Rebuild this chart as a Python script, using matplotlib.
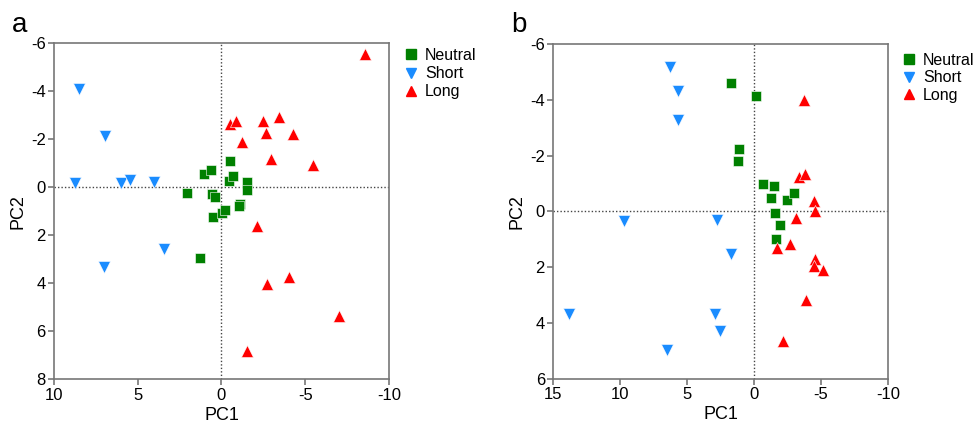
import matplotlib
matplotlib.use("Agg")
import matplotlib.pyplot as plt
from matplotlib.lines import Line2D

plt.rcParams['font.family'] = ['Liberation Sans', 'DejaVu Sans']

# panel a data (PC1, PC2)
a_neutral_pc1 = [2.04, 1.06, 0.62, 0.58, 0.40, 0.50, -0.06, -0.22, -0.50, -0.46, -0.70, -1.53, -1.53, -1.10, -1.04, 1.30]
a_neutral_pc2 = [0.22, -0.55, -0.72, 0.28, 0.39, 1.22, 1.06, 0.95, -1.11, -0.27, -0.48, -0.23, 0.11, 0.67, 0.78, 2.96]
a_short_pc1 = [8.49, 6.93, 8.74, 5.99, 5.49, 4.04, 3.46, 7.03]
a_short_pc2 = [-4.12, -2.14, -0.17, -0.17, -0.30, -0.23, 2.57, 3.33]
a_long_pc1 = [-8.58, -0.50, -0.84, -2.49, -3.45, -2.65, -4.25, -1.22, -2.95, -5.49, -2.13, -4.05, -2.71, -7.02, -1.51]
a_long_pc2 = [-5.55, -2.64, -2.78, -2.78, -2.92, -2.25, -2.21, -1.90, -1.17, -0.93, 1.61, 3.75, 4.04, 5.36, 6.82]

# panel b data
b_neutral_pc1 = [1.74, -0.15, 1.12, 1.22, -0.65, -1.47, -1.25, -2.44, -3.01, -1.59, -1.92, -1.62]
b_neutral_pc2 = [-4.60, -4.12, -2.25, -1.80, -0.99, -0.92, -0.49, -0.42, -0.66, 0.06, 0.50, 1.00]
b_short_pc1 = [6.25, 5.67, 5.65, 9.75, 2.74, 13.81, 6.47, 1.74, 2.91, 2.54]
b_short_pc2 = [-5.17, -4.31, -3.26, 0.35, 0.30, 3.67, 4.96, 1.54, 3.67, 4.29]
b_long_pc1 = [-3.71, -3.34, -3.83, -4.48, -4.57, -3.13, -2.66, -1.69, -4.57, -4.48, -5.13, -3.88, -2.14]
b_long_pc2 = [-4.00, -1.25, -1.33, -0.37, -0.01, 0.23, 1.16, 1.30, 1.70, 1.94, 2.11, 3.16, 4.65]

groups = ["Neutral", "Short", "Long"]
colors = ["#008000", "#1a8cff", "#ff0000"]
markers = ["s", "v", "^"]

fig = plt.figure(figsize=(9.74, 4.22), dpi=100)
ax_a = fig.add_axes([0.0554, 0.101, 0.344, 0.796])
ax_b = fig.add_axes([0.568, 0.102, 0.3436, 0.794])


def draw_panel(ax, data, xlim, ylim, xticks, yticks):
    ax.axhline(0, color="#444444", linestyle=(0, (1, 1.5)), linewidth=1, zorder=1)
    ax.axvline(0, color="#444444", linestyle=(0, (1, 1.5)), linewidth=1, zorder=1)
    for (x, y), c, m in zip(data, colors, markers):
        size = 60 if m == "s" else 75
        ax.scatter(x, y, s=size, c=c, marker=m, edgecolors="white", linewidths=0.4, zorder=3)
    ax.set_xlim(*xlim)
    ax.set_ylim(*ylim)
    ax.set_xticks(xticks)
    ax.set_yticks(yticks)
    ax.set_xticklabels([str(t) for t in xticks])
    ax.set_yticklabels([str(t) for t in yticks])
    for s in ax.spines.values():
        s.set_color("#777777")
        s.set_linewidth(1.2)
    ax.tick_params(direction="out", length=4, width=1.2, color="#777777", labelsize=12, pad=2)
    ax.set_xlabel("PC1", fontsize=13, labelpad=3)
    ax.set_ylabel("PC2", fontsize=13, labelpad=3)


draw_panel(ax_a,
           [(a_neutral_pc1, a_neutral_pc2), (a_short_pc1, a_short_pc2), (a_long_pc1, a_long_pc2)],
           (10, -10), (8, -6), [10, 5, 0, -5, -10], [-6, -4, -2, 0, 2, 4, 6, 8])
draw_panel(ax_b,
           [(b_neutral_pc1, b_neutral_pc2), (b_short_pc1, b_short_pc2), (b_long_pc1, b_long_pc2)],
           (15, -10), (6, -6), [15, 10, 5, 0, -5, -10], [-6, -4, -2, 0, 2, 4, 6])

handles = [Line2D([], [], linestyle="none", marker=m, color=c, markersize=7) for c, m in zip(colors, markers)]
fig.legend(handles, groups, loc="upper left", bbox_to_anchor=(401 / 974, 1 - 48 / 422),
           frameon=False, fontsize=11.5, handletextpad=0.3, labelspacing=0.2,
           borderpad=0, borderaxespad=0, handlelength=1.2)
fig.legend(handles, groups, loc="upper left", bbox_to_anchor=(899 / 974, 1 - 53 / 422),
           frameon=False, fontsize=11.5, handletextpad=0.3, labelspacing=0.15,
           borderpad=0, borderaxespad=0, handlelength=1.2)

fig.text(12 / 974, 1 - 32 / 422, "a", fontsize=20)
fig.text(511 / 974, 1 - 32 / 422, "b", fontsize=20)

fig.savefig("out.png", dpi=100)
